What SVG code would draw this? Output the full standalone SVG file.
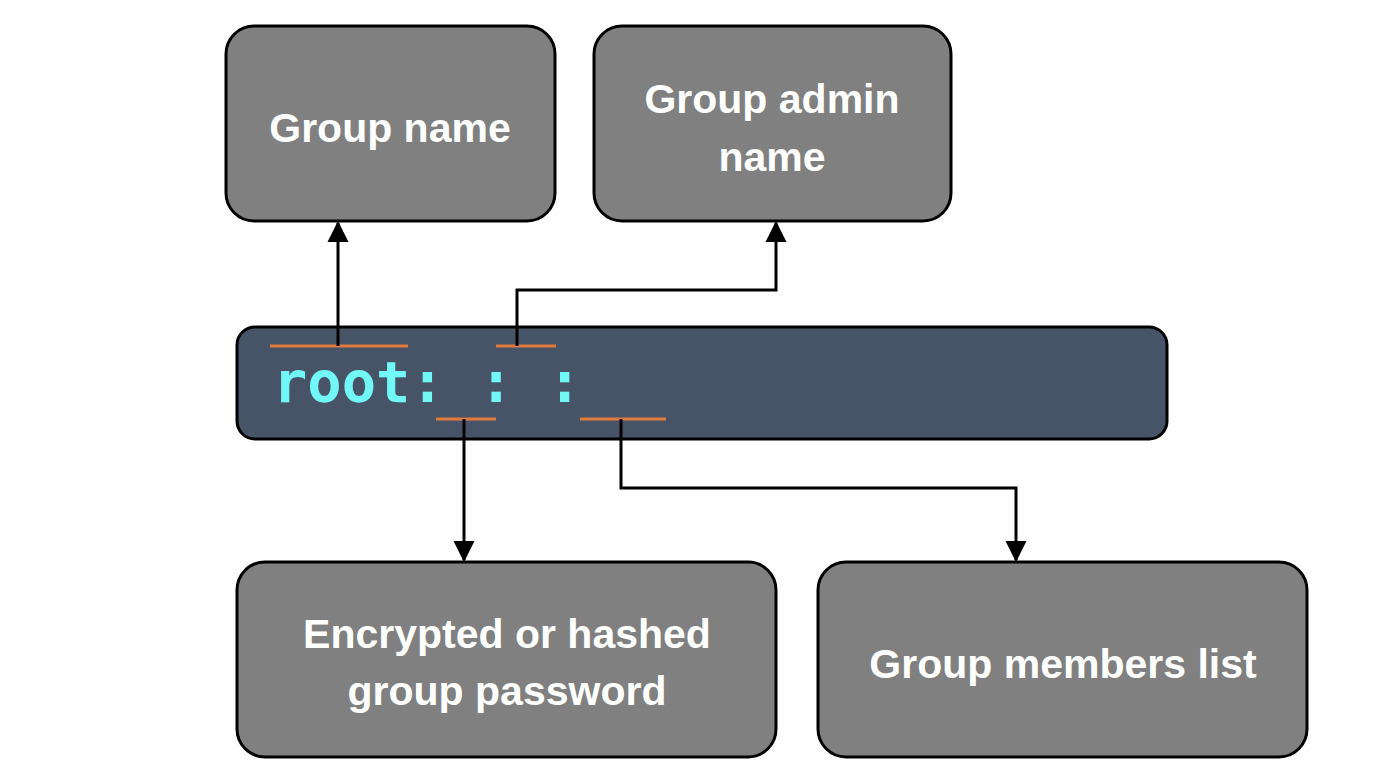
<svg xmlns="http://www.w3.org/2000/svg" width="1378" height="782" viewBox="0 0 1378 782">
<style>
.box{fill:#808080;stroke:#000;stroke-width:3}
.lbl{font-family:"Comic Sans MS","Liberation Sans",sans-serif;font-weight:bold;font-size:41px;fill:#fff;text-anchor:middle}
.code{font-family:"DejaVu Sans Mono",monospace;font-weight:bold;font-size:57px;fill:#72f7f7}
.ul{stroke:#e07b3c;stroke-width:3}
.conn{fill:none;stroke:#000;stroke-width:3}
</style>
<defs>
<marker id="arr" viewBox="0 0 10 10" refX="9" refY="5" markerWidth="7" markerHeight="8" markerUnits="strokeWidth" orient="auto">
<path d="M0,0 L10,5 L0,10 Z" fill="#000"/>
</marker>
</defs>
<rect width="1378" height="782" fill="#fff"/>
<g id="group-name"><rect class="box" x="226" y="26" width="329" height="195" rx="28"/><text class="lbl" x="390" y="142">Group name</text></g>
<g id="group-admin"><rect class="box" x="594" y="26" width="357" height="195" rx="28"/><text class="lbl" x="772" y="113">Group admin</text><text class="lbl" x="772" y="171">name</text></g>
<g id="line"><rect x="237" y="327" width="930" height="112" rx="18" fill="#475468" stroke="#000" stroke-width="3"/>
<text class="code" x="273" y="402" xml:space="preserve">root: : :</text>
<line class="ul" x1="270" y1="346" x2="408" y2="346"/><line class="ul" x1="496" y1="346" x2="556" y2="346"/>
<line class="ul" x1="436" y1="419" x2="496" y2="419"/><line class="ul" x1="580" y1="419" x2="666" y2="419"/></g>
<g id="password"><rect class="box" x="237" y="562" width="539" height="195" rx="28"/><text class="lbl" x="507" y="648">Encrypted or hashed</text><text class="lbl" x="507" y="705">group password</text></g>
<g id="members"><rect class="box" x="818" y="562" width="489" height="195" rx="28"/><text class="lbl" x="1063" y="678">Group members list</text></g>
<g id="connectors">
<path class="conn" d="M338,346 V223" marker-end="url(#arr)"/>
<path class="conn" d="M517,346 V290 H776 V223" marker-end="url(#arr)"/>
<path class="conn" d="M464,419 V560" marker-end="url(#arr)"/>
<path class="conn" d="M621,419 V488 H1016 V560" marker-end="url(#arr)"/>
</g>
</svg>
